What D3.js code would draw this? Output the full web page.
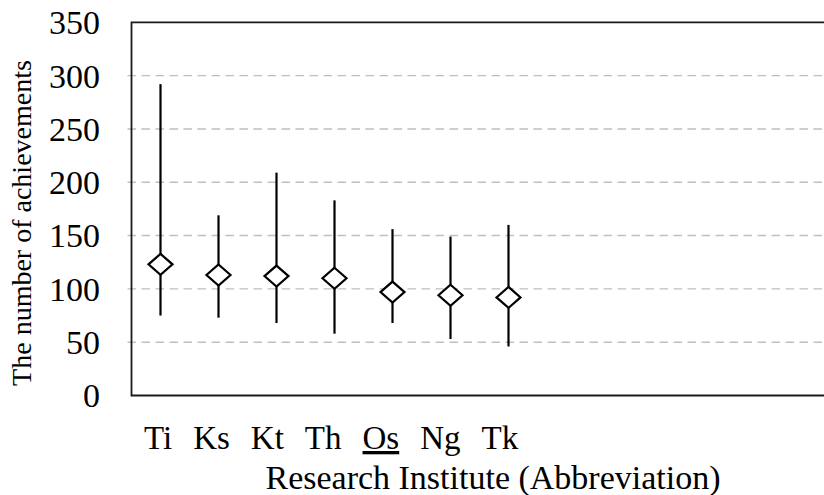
<!DOCTYPE html>
<html lang="en">
<head>
<meta charset="utf-8">
<title>Achievements by research institute</title>
<script src="https://cdn.jsdelivr.net/npm/d3@7"></script>
<style>
  body { margin: 0; background: #fff; }
  text { font-family: "Liberation Serif", "Times New Roman", serif; fill: #000; }
</style>
</head>
<body>
<script>
// data
var institutes = ["Ti", "Ks", "Kt", "Th", "Os", "Ng", "Tk"];
var highs = [292, 169, 209, 183, 156, 149, 160];
var lows  = [75, 73, 68, 58, 68, 53, 46];
var mids  = [123, 113, 112, 110, 97, 94, 92];
var yTicks = [0, 50, 100, 150, 200, 250, 300, 350];
var nSlots = 12; // empty slots on the right, the plot area runs off the edge

var w = 824, h = 495;
var plotLeft = 131.5, plotTop = 22.3, plotBottom = 395.5;

var svg = d3.select("body").append("svg")
  .attr("width", w).attr("height", h);

var x = d3.scaleBand()
  .domain(d3.range(nSlots))
  .range([plotLeft, plotLeft + 58 * nSlots]);

var y = d3.scaleLinear()
  .domain([0, 350])
  .range([plotBottom, plotTop]);

// dashed grid lines
svg.append("g").selectAll("line")
  .data(yTicks.filter(function(d) { return d > 0 && d < 350; }))
  .enter().append("line")
  .attr("x1", plotLeft - 4).attr("x2", w)
  .attr("y1", function(d) { return y(d); })
  .attr("y2", function(d) { return y(d); })
  .attr("stroke", "#bfbfbf")
  .attr("stroke-width", 1.4)
  .attr("stroke-dasharray", "8.5,5.5");

// plot area border (right side is cut off)
svg.append("path")
  .attr("d", "M" + (w + 5) + "," + plotTop + "H" + plotLeft + "V" + plotBottom + "H" + (w + 5))
  .attr("fill", "none")
  .attr("stroke", "#1a1a1a")
  .attr("stroke-width", 1.8);

// y tick labels
svg.append("g").selectAll("text")
  .data(yTicks)
  .enter().append("text")
  .attr("x", 100)
  .attr("y", function(d) { return y(d); })
  .attr("dy", "0.35em")
  .attr("text-anchor", "end")
  .attr("font-size", "34px")
  .text(function(d) { return d; });

// whiskers
var idx = d3.range(institutes.length);
var cx = function(i) { return x(i) + x.bandwidth() / 2; };

svg.append("g").selectAll("line")
  .data(idx)
  .enter().append("line")
  .attr("x1", cx).attr("x2", cx)
  .attr("y1", function(i) { return y(highs[i]); })
  .attr("y2", function(i) { return y(lows[i]); })
  .attr("stroke", "#000")
  .attr("stroke-width", 2.2);

// diamonds
svg.append("g").selectAll("path")
  .data(idx)
  .enter().append("path")
  .attr("transform", function(i) { return "translate(" + cx(i) + "," + y(mids[i]) + ")"; })
  .attr("d", "M0,-10.5L12,0L0,10.5L-12,0Z")
  .attr("fill", "#fff")
  .attr("stroke", "#000")
  .attr("stroke-width", 2.2);

// category labels (text box in the original, Os underlined)
var cat = svg.append("text")
  .attr("x", 144)
  .attr("y", 449)
  .attr("font-size", "33px");
cat.selectAll("tspan")
  .data(institutes)
  .enter().append("tspan")
  .attr("dx", function(d, i) { return i === 0 ? 0 : 21; })
  .attr("text-decoration", function(d) { return d === "Os" ? "underline" : null; })
  .text(function(d) { return d; });

// axis titles
svg.append("text")
  .attr("x", 493)
  .attr("y", 489)
  .attr("text-anchor", "middle")
  .attr("font-size", "34px")
  .text("Research Institute (Abbreviation)");

svg.append("text")
  .attr("transform", "translate(31," + 223 + ") rotate(-90)")
  .attr("text-anchor", "middle")
  .attr("font-size", "28px")
  .text("The number of achievements");
</script>
</body>
</html>
